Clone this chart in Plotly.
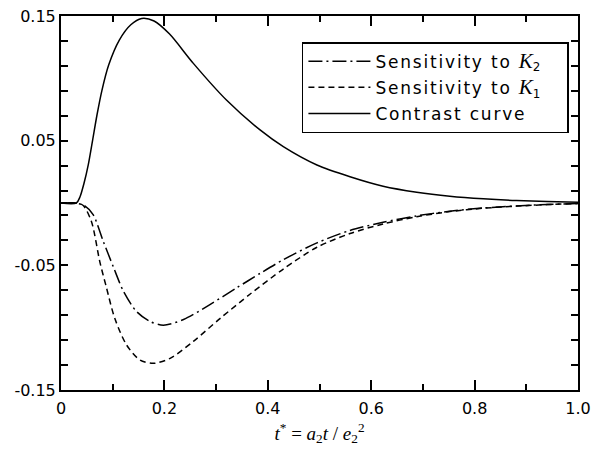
import plotly.graph_objects as go

# Contrast curve
t_c = [0.0, 0.0297, 0.0368, 0.0445, 0.0529, 0.0612, 0.0696, 0.0793, 0.0922, 0.1128, 0.135, 0.156, 0.18, 0.21, 0.256, 0.32, 0.385, 0.43, 0.495, 0.559, 0.623, 0.688, 0.752, 0.817, 0.881, 0.94, 1.0]
v_c = [0.0, 0.0, 0.005, 0.0158, 0.031, 0.0505, 0.0706, 0.0906, 0.1107, 0.1307, 0.143, 0.148, 0.146, 0.1355, 0.112, 0.0826, 0.0586, 0.0452, 0.0305, 0.0211, 0.0135, 0.0087, 0.0055, 0.0034, 0.0020, 0.0012, 0.0006]

# Sensitivity to K2 (dash-dot)
t_k2 = [0.0, 0.027, 0.045, 0.0625, 0.082, 0.101, 0.121, 0.146, 0.172, 0.198, 0.237, 0.288, 0.34, 0.385, 0.43, 0.495, 0.559, 0.623, 0.688, 0.752, 0.817, 0.881, 0.94, 1.0]
v_k2 = [0.0, 0.0, -0.002, -0.0096, -0.031, -0.051, -0.071, -0.087, -0.095, -0.098, -0.0935, -0.0815, -0.068, -0.0565, -0.0455, -0.032, -0.022, -0.0155, -0.0103, -0.0066, -0.0040, -0.0024, -0.0012, -0.0004]

# Sensitivity to K1 (dashed)
t_k1 = [0.0, 0.030, 0.043, 0.059, 0.075, 0.088, 0.104, 0.127, 0.153, 0.179, 0.211, 0.256, 0.308, 0.366, 0.43, 0.495, 0.559, 0.623, 0.688, 0.752, 0.817, 0.881, 0.94, 1.0]
v_k1 = [0.0, 0.0, -0.002, -0.015, -0.047, -0.068, -0.0925, -0.114, -0.126, -0.1286, -0.1246, -0.111, -0.0925, -0.073, -0.053, -0.0355, -0.0245, -0.0168, -0.0110, -0.0069, -0.0042, -0.0025, -0.0013, -0.0005]

sp = "<span style='letter-spacing:1.8px'>"
kk = "<i><span style='font-family:Liberation Serif;font-size:21px'>K</span></i>"
pad = sp + "&nbsp;&nbsp;&nbsp;</span>"
names = [sp + "Sensitivity to </span>" + kk + "<sub>2</sub>" + pad,
         sp + "Sensitivity to </span>" + kk + "<sub>1</sub>" + pad,
         sp + "Contrast curve</span>"]

fig = go.Figure()
fig.add_trace(go.Scatter(x=t_k2, y=v_k2, mode="lines", name=names[0], legendgroup="a",
                         line=dict(color="black", width=1.5, dash="14px,4px,2px,4px", shape="spline", smoothing=0.8)))
fig.add_trace(go.Scatter(x=t_k1, y=v_k1, mode="lines", name=names[1], legendgroup="b",
                         line=dict(color="black", width=1.5, dash="6px,4px", shape="spline", smoothing=0.8)))
fig.add_trace(go.Scatter(x=t_c, y=v_c, mode="lines", name=names[2], legendgroup="c",
                         line=dict(color="black", width=1.5, shape="spline", smoothing=0.8)))

axis_common = dict(showline=True, linecolor="black", linewidth=2, mirror="ticks",
                   ticks="inside", tickcolor="black", tickwidth=1.5, showgrid=False,
                   zeroline=False, automargin=False,
                   tickfont=dict(family="DejaVu Sans", size=16, color="black"))

fig.update_xaxes(range=[0, 1.0], tickvals=[0, 0.2, 0.4, 0.6, 0.8, 1.0],
                 ticktext=["0", "0.2", "0.4", "0.6", "0.8", "1.0"], ticklen=10,
                 ticklabelstandoff=3,
                 minor=dict(tickvals=[0.1, 0.3, 0.5, 0.7, 0.9], ticklen=6, ticks="inside",
                            tickcolor="black", tickwidth=1.5),
                 title=dict(text="<i>t</i><sup>*</sup> = <i>a</i><sub>2</sub><i>t</i> / <i>e</i><sub>2</sub><sup>2</sup>",
                            font=dict(family="Liberation Serif, Times New Roman", size=19, color="black"),
                            standoff=9),
                 **axis_common)
fig.update_yaxes(range=[-0.15, 0.15], tickvals=[-0.15, -0.05, 0.05, 0.15],
                 ticktext=["-0.15", "-0.05", "0.05", "0.15"], ticklen=7,
                 minor=dict(tick0=-0.15, dtick=0.02, ticklen=7, ticks="inside",
                            tickcolor="black", tickwidth=1.5),
                 **axis_common)

fig.update_layout(
    width=593, height=456,
    margin=dict(l=61, r=15, t=16, b=66),
    plot_bgcolor="white", paper_bgcolor="white",
    showlegend=True,
    legend=dict(x=0.466, y=0.930, xanchor="left", yanchor="top",
                bordercolor="black", borderwidth=1.5, bgcolor="white",
                font=dict(family="DejaVu Sans", size=17, color="black"),
                tracegroupgap=1, itemwidth=62),
)

fig.write_html("out.html", config={"displayModeBar": False},
               post_script="document.body.style.margin='0';")
